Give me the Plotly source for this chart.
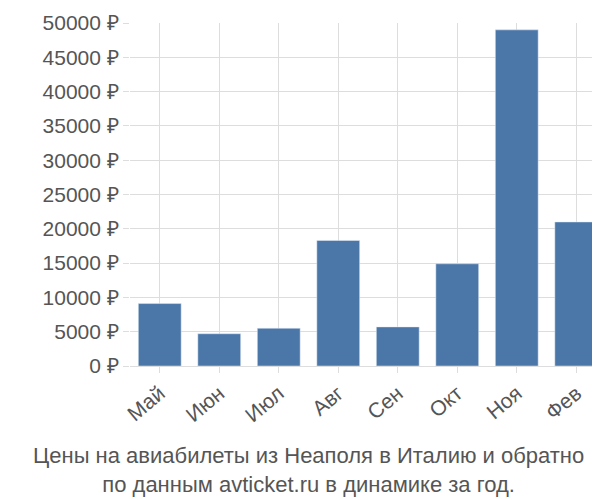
import plotly.graph_objects as go

# Данные
months = ['Май', 'Июн', 'Июл', 'Авг', 'Сен', 'Окт', 'Ноя', 'Фев']
prices = [9100, 4700, 5500, 18300, 5700, 14900, 49000, 21000]
tick_vals = [0, 5000, 10000, 15000, 20000, 25000, 30000, 35000, 40000, 45000, 50000]
tick_text = [f'{v} ₽' for v in tick_vals]

fig = go.Figure()
fig.add_trace(go.Bar(
    x=months,
    y=prices,
    marker_color='#4a76a8',
    width=0.72,
))

fig.update_layout(
    width=600,
    height=500,
    margin=dict(l=122, r=2, t=15, b=142),
    plot_bgcolor='white',
    paper_bgcolor='white',
    font=dict(family='Liberation Sans, Arial, sans-serif', size=21, color='#555'),
    showlegend=False,
    xaxis=dict(
        automargin=False,
        showgrid=True,
        gridcolor='#ddd',
        tickangle=-40,
        ticks='outside',
        ticklen=6,
        tickcolor='#ddd',
        linecolor='#ddd',
    ),
    yaxis=dict(
        automargin=False,
        range=[0, 50000],
        tickvals=tick_vals,
        ticktext=tick_text,
        showgrid=True,
        gridcolor='#ddd',
        ticks='outside',
        ticklen=6,
        tickcolor='#ddd',
        zeroline=False,
    ),
    annotations=[
        dict(
            text='Цены на авиабилеты из Неаполя в Италию и обратно<br>по данным avticket.ru в динамике за год.',
            showarrow=False,
            xref='paper', yref='paper',
            x=0.374, y=0, xanchor='center', yanchor='top',
            yshift=-75,
            font=dict(size=22, color='#555'),
        )
    ],
)

fig.write_html('out.html')
